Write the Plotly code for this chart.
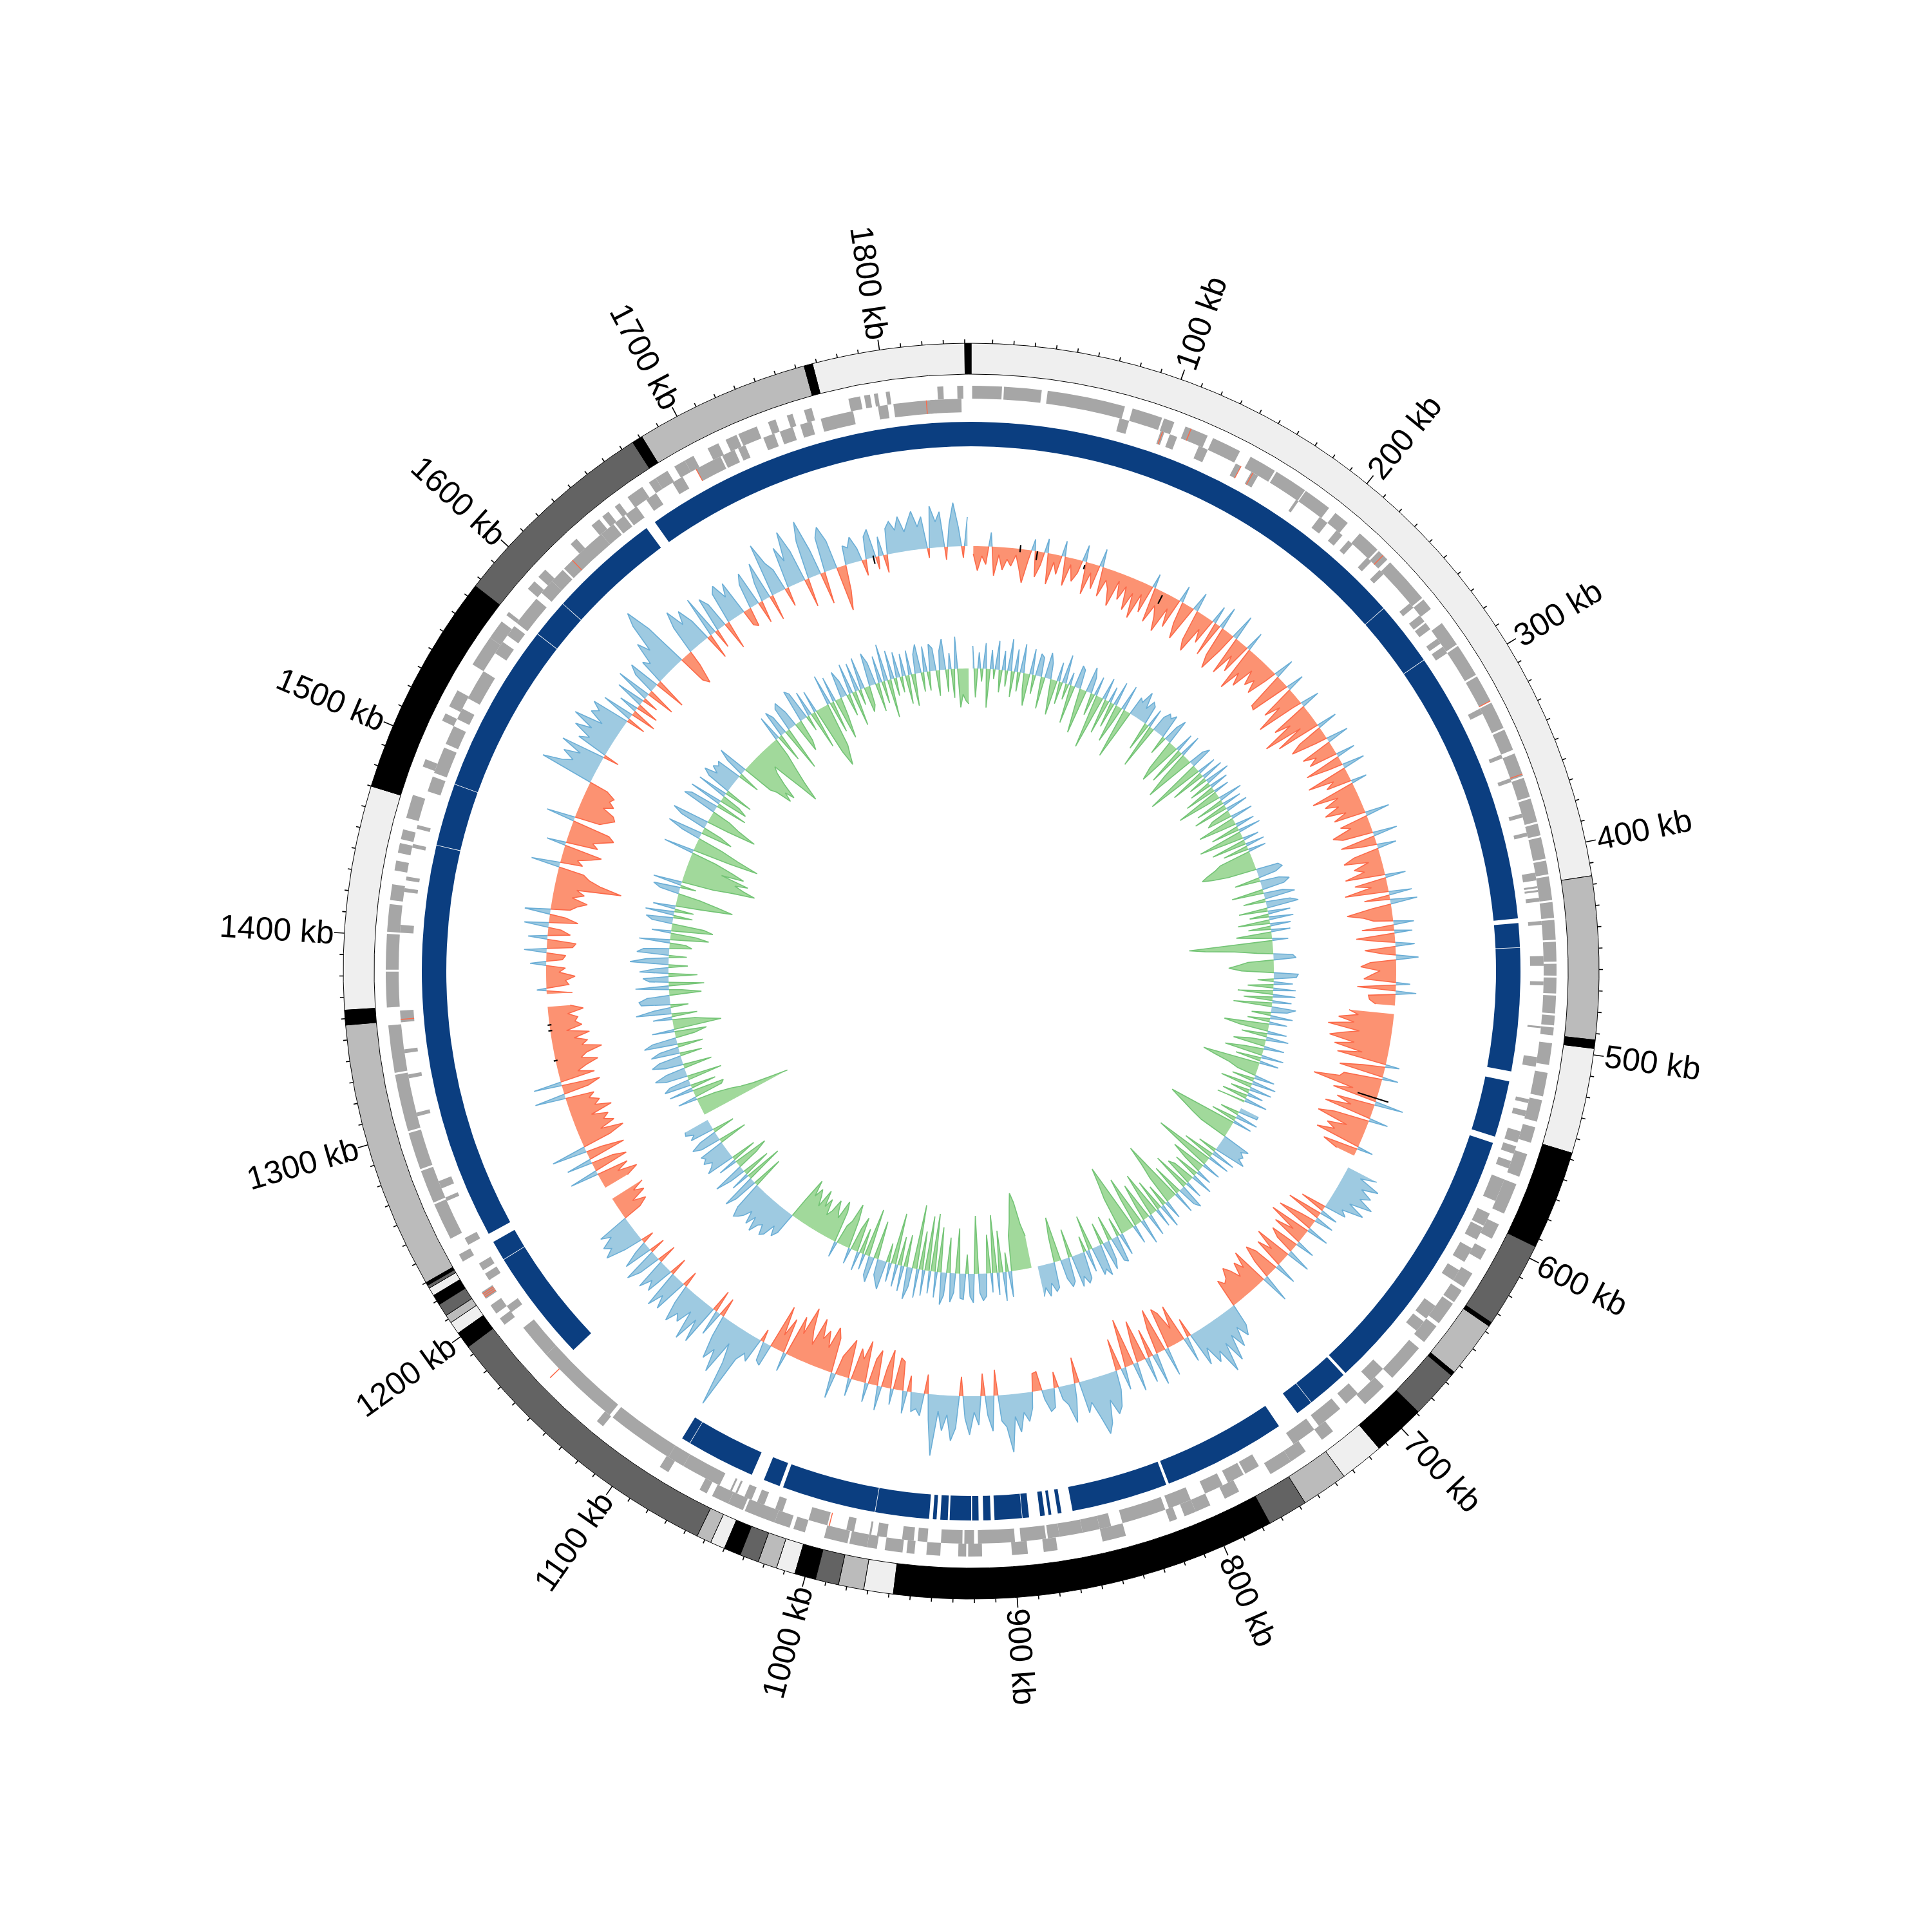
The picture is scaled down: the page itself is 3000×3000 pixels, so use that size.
import math
import plotly.graph_objects as go

GENOME_KB = 1843
RADIUS_PX = 1500

RING_EDGES = [0,416,493,497,547,594,635,637,664,666,689,714,735,757,776,958,972,984,995,1005,1014,1023,1032,1040,1047,1054,1194,1202,1208,1212,1218,1223,1227,1228.5,1230,1357,1364,1470,1576,1676,1681,1764,1768,1840,1843]
RING_SHADES = ["#efefef","#bbbbbb","#000000","#efefef","#000000","#636363","#000000","#bbbbbb","#000000","#636363","#000000","#efefef","#bbbbbb","#636363","#000000","#efefef","#bbbbbb","#636363","#000000","#efefef","#bbbbbb","#636363","#000000","#efefef","#bbbbbb","#636363","#000000","#efefef","#bbbbbb","#636363","#000000","#efefef","#636363","#000000","#bbbbbb","#000000","#efefef","#000000","#636363","#000000","#bbbbbb","#000000","#efefef","#000000"]

GENES_OUTER = [(0.5,15.5),(16.5,35.5),(38.5,78),(82,97.5),(98.5,104),(110,122),(125,140),(146,160),(161,178),(178.5,193),(197,205),(213,225),(226,232),(234,258),(259,265),(274,287),(288,305),(306,320),(321,335),(336,347),(349,361),(362,372),(373,385),(386,392),(393,404),(405,412),(413,425),(426,434),(435,445),(446,456),(457,463),(464,472),(473,482),(483,488),(489,493),(497,508),(512,524),(526,537),(540,548),(554,566),(570,586),(592,600),(606,612),(620,628),(630,637),(638,650),(652,662),(666,686),(692,705),(726,733),(743,752),(752,764),(782,790),(798,806),(806,812),(816,820),(843,855),(878,885),(893,901),(916,923),(924,928),(937,944),(950,954),(956,965),(969,974),(974,983),(984,996),(1006,1012),(1014,1022),(1022,1038),(1039,1047),(1047,1056),(1059,1063),(1081,1086),(1121,1125),(1192,1196),(1199,1204),(1208,1212),(1230,1234),(1243,1262),(1263,1280),(1281,1300),(1301,1330),(1331,1355),(1364,1382),(1383,1401),(1402,1416),(1418,1426),(1433,1438),(1442,1447),(1449,1454),(1460,1472),(1487,1491),(1512,1516),(1520,1529),(1544,1560),(1560,1570),(1574,1576),(1591,1596),(1599,1604),(1622,1626),(1636,1641),(1643,1647),(1651,1654),(1659,1668),(1672,1676),(1676,1683),(1687,1693),(1693,1698),(1706,1712),(1716,1722),(1723,1733),(1739,1743),(1749,1752),(1758,1762),(1781,1787),(1789,1792),(1794,1796),(1800,1802),(1826,1829),(1836,1839)]
GENES_INNER = [(77,82),(99,101),(104,108),(120,125),(141,144),(150,154),(177,178.5),(192,197),(203,207),(211,214),(224,227),(233,236),(256,259),(264,268),(269,273),(279,282),(284,288),(321,324),(347,349),(360,362),(379,381),(389,391),(410,414),(417,418),(419,420),(423,425),(435,437),(453,458),(466,468),(489,490),(505,510),(527,529),(533,536),(544,550),(552,556),(560,564),(570,582),(589,596),(597,604),(609,617),(622,628),(644,652),(654,660),(686,695),(704,712),(716,730),(733,746),(767,775),(776,785),(788,798),(806,818),(820,843),(849,855),(855,864),(864,876),(876,882),(883,896),(899,918),(920,925),(926,937),(944,949),(951,957),(965,970),(973,974),(982,986),(996,1006),(1020,1024),(1030,1034),(1037,1041),(1045,1046),(1048,1049),(1055,1076),(1076,1085),(1085,1120),(1122,1167),(1167,1185),(1195,1199),(1215,1219),(1221,1225),(1236,1240),(1261,1263),(1268,1272),(1307,1309),(1327,1329),(1340,1342),(1356,1362),(1402,1406),(1423,1425),(1429,1431),(1446,1448),(1456,1458),(1476,1484),(1486,1500),(1502,1512),(1516,1522),(1528,1544),(1555,1562),(1566,1572),(1574,1590),(1594,1602),(1602,1610),(1611,1637),(1637,1645),(1646,1652),(1653,1660),(1666,1672),(1682,1688),(1696,1710),(1711,1718),(1720,1724),(1734,1740),(1743,1750),(1754,1760),(1765,1782),(1795,1800),(1803,1825),(1822,1838)]
RED_OUTER_KB = [113,229,320,360,1157,1209,1210,1211]
RED_INNER_KB = [100,144,151,995,1357.5,1617,1696,1820]

CONTIGS = [(0,249),(249.3,284),(284.3,432.5),(435,448),(448.3,514.6),(520,550.5),(554,701.5),(703,725.5),(725.8,735),(747,813.5),(815,867),(873,875),(878.5,880),(882,884.5),(890.5,894),(894.3,909),(911,915),(917.5,921),(921.5,933),(934,938),(940,942),(944,973),(973.3,1024),(1026,1035),(1042,1079),(1079.3,1084),(1159,1220),(1220.3,1231),(1236,1450),(1450.3,1484),(1484.3,1576),(1576.3,1597),(1597.3,1657.5),(1663,1843)]

TICK_KB = list(range(10, 1841, 10))
LABEL_KB = list(range(100, 1801, 100))

SKEW_STEP_KB = 3
SKEW = [
-12,-38,-15,-28,22,-45,-12,-35,-18,-28,-10,-30,-52,-15,18,-40,-20,22,-48,-12,
-30,24,-45,-10,-35,-20,26,-50,-14,-38,28,-46,-18,-30,-55,-12,-40,-16,-52,-22,
-60,-18,-45,22,-55,-25,-40,-62,-20,-48,26,-35,-58,-15,30,-50,-65,-22,-42,28,
-55,35,-48,-68,-30,40,-62,-25,-50,30,-72,-38,-58,-22,-45,-30,-50,-18,32,-60,
-63,-20,28,-55,-30,-75,-15,30,-60,-35,-86,-25,-70,32,-40,-58,-20,35,-50,-30,
-45,30,-58,-22,35,-65,-25,-40,25,-70,-30,-55,-35,-60,-28,-50,38,-45,-30,-62,
-48,38,-55,-25,30,-40,-58,-20,-45,-30,-62,32,-50,-25,-68,36,-40,42,-30,-70,
-45,-30,32,-50,28,-60,-25,30,-48,-20,35,-40,-55,-25,-38,-50,22,-60,32,-42,
-40,-30,None,-70,-55,-85,-60,-100,-50,-75,-95,-55,-85,-40,-78,22,-35,-70,25,-60,
-65,-105,-40,-70,45,-60,-35,-75,30,-55,-80,-30,-60,-45,-72,25,-55,-30,None,None,
50,25,60,35,55,40,65,30,58,25,35,-40,28,-55,30,-25,-60,35,-65,-20,
-50,30,-45,-30,38,-58,-25,-48,35,-40,-55,-30,45,-60,-35,-50,-28,-45,-55,-40,
-35,-45,35,50,30,60,35,75,40,85,45,60,30,55,-30,40,-60,-25,-55,-65,
45,-70,-40,50,-45,40,-65,-30,45,-75,-20,35,-50,30,55,65,40,75,90,60,
35,50,-40,25,60,30,20,-25,30,35,15,-30,-28,25,45,30,60,35,90,50,
40,-40,55,30,-35,45,25,60,35,-30,50,70,30,55,25,95,40,-30,35,25,
30,-25,35,-45,-50,25,-60,-30,38,-55,-40,30,-65,-35,-50,28,-60,-45,-30,40,
-55,-70,-35,-60,-45,-75,-30,-50,-85,-40,-65,30,-55,-25,-70,35,30,-20,40,30,
45,130,60,30,85,50,70,35,-30,40,-35,65,30,70,25,50,40,60,30,-25,
55,35,60,-28,45,30,50,-30,35,55,-25,45,20,-20,30,60,45,55,35,50,
-30,-45,-25,-50,-35,-55,None,None,-40,-60,-30,-50,45,-55,-35,40,-60,-25,55,-45,
-70,-35,-60,-45,-55,-30,-65,-40,-50,-35,-45,48,-40,-60,44,-55,-30,-45,-65,-40,
-50,-75,-45,-55,-35,-60,-25,-50,-40,-45,-30,-55,-35,None,None,-40,15,-35,-30,-45,
-20,-30,25,-25,-30,35,-40,-45,30,-35,-20,38,-45,-25,40,-30,-40,-55,-30,-48,
-35,-104,-70,-50,-40,45,-35,-25,-45,-60,30,-50,-40,-55,-70,-60,45,-40,-50,-60,
-55,-35,-50,-40,-45,-30,85,55,40,60,35,70,-25,50,35,65,40,75,30,55,
45,60,-30,50,-40,30,-35,45,-25,55,-45,35,50,-50,40,30,65,45,90,110,
70,-45,-55,-25,45,70,40,60,35,-40,65,-30,55,40,-45,50,60,35,55,-25,
-30,40,55,-35,30,60,-40,84,50,35,-30,65,40,85,50,-45,60,90,40,-50,
55,70,45,-70,-40,30,25,40,20,-25,35,45,-20,30,-28,40,50,35,55,30,
45,60,35,50,-15,65,40,55,-20,35,68,30,-18,45,
]

GC_STEP_KB = 3
GC = [
35,-45,25,-20,40,-60,30,-15,45,-35,30,-25,50,-40,35,-30,45,-25,-50,40,
-30,35,30,-50,40,25,-20,-55,30,-35,45,-25,20,-60,35,30,-30,-70,40,25,
-35,30,-85,-30,35,-55,25,-40,38,-60,-25,40,-80,-35,30,25,45,20,35,30,
-45,30,-70,25,35,30,38,-30,25,40,-50,-70,-25,30,-60,35,-45,-80,-30,25,
35,-90,-40,30,-55,35,-30,40,-35,30,-50,25,-70,-25,38,-45,30,-55,35,-30,
-40,35,-60,-25,30,-45,35,-70,-30,25,-55,30,-40,28,-50,-60,-75,-85,-70,-45,
35,40,28,-40,30,45,35,-50,30,48,-35,38,50,-45,35,-30,38,-50,32,-35,
30,-55,-20,25,-130,-105,-60,-25,30,35,-40,-55,-70,-50,38,35,-25,30,-40,35,
-55,35,-45,30,-60,38,25,-30,35,-35,28,-70,-45,30,-40,35,-25,-50,32,-30,
-60,35,-40,30,-90,-70,-45,-30,32,-35,38,-50,35,-30,25,-40,36,-45,None,30,
30,-30,35,-40,30,-108,-95,-80,-65,-45,45,35,42,38,50,-30,38,-50,35,-93,
-45,30,-55,-30,25,-40,35,-35,-45,28,-60,40,30,-50,35,-100,-70,-45,30,-35,
38,-50,30,-70,-30,35,-60,-25,40,-80,-45,30,-50,-110,-85,-60,35,-30,42,38,
-40,30,45,-35,50,38,45,-55,35,-25,42,48,35,50,-45,38,45,30,-70,-40,
40,45,30,50,35,48,None,-50,-70,-105,-120,-100,-75,-55,40,-30,45,-65,35,-90,
30,-60,35,42,30,-90,45,35,-30,40,38,-70,30,45,-55,35,50,-70,40,-90,
35,-85,40,-60,45,-100,30,50,-50,40,-45,35,-80,30,-30,45,35,25,-60,40,
30,-75,25,-40,30,-55,-35,25,-45,-70,-40,-30,25,-50,-65,-35,-45,-60,-40,-30,
-55,-40,-65,-35,-50,-60,-45,-70,-30,35,45,30,50,55,40,45,60,38,55,35,
48,55,60,45,-50,38,55,-60,30,-45,25,50,-35,-55,30,-40,45,35,30,42,
35,40,-45,32,45,28,-35,38,30,42,40,None,-146,-120,-90,-70,-55,-30,30,-45,
-50,38,-40,42,32,-55,35,50,30,-45,28,48,35,-35,45,30,-40,52,38,-30,
-50,35,-75,-55,-35,30,-40,55,25,-28,45,48,35,-50,-20,52,-55,30,40,-45,
45,20,-30,60,35,-28,50,40,-35,-25,48,-60,-40,30,-65,-50,32,42,-30,45,
-30,35,-40,-89,-65,-35,30,42,-25,45,-50,-80,-115,-95,-80,-100,-55,-90,-70,-40,
48,-60,-105,-70,-40,30,55,-50,-30,42,58,-35,-80,-50,-30,55,45,-50,52,-45,
-30,48,-45,38,50,30,42,35,40,-35,30,48,-50,-60,-85,-70,-85,-60,-40,-30,
-60,-85,-110,-80,-55,-30,40,-45,42,30,-70,38,45,25,-50,-35,52,45,-25,40,
-60,35,-75,-100,-85,-70,48,-50,40,-65,-30,42,25,-35,48,-55,45,-25,50,-40,
-30,52,35,-45,42,-35,58,-60,45,-28,40,-25,35,-45,38,-50,30,45,-30,40,
-30,42,35,-40,30,48,-35,25,-45,50,-60,-40,-50,-55,
]

SKEW_MARK_KB = [34,46,80,138,550,1320,1341,1345,1775]
SKEW_MARK_LOW = [-5,-14,-12,-20,-31,-3,-3,-3,-10]
SKEW_MARK_HIGH = [6,0,-5,-5,19,3,3,3,3]

R_RING_OUT, R_RING_IN = 975, 927
R_GENE_TOP, R_GENE_MID, R_GENE_BOT = 909, 889, 868
R_CONTIG_OUT, R_CONTIG_IN = 853, 815
R_SKEW, R_GC = 660, 470


def deg(kb):
    return kb / GENOME_KB * 360.0


def bars(spans, base, top, color, line=None):
    return go.Barpolar(
        theta=[deg((a + b) / 2) for a, b in spans],
        width=[deg(b - a) for a, b in spans],
        base=[base] * len(spans),
        r=[top - base] * len(spans),
        marker=dict(color=color, line=dict(color=line or color, width=1 if line else 0)),
        hoverinfo="skip",
        showlegend=False,
    )


def split_by_sign(values, step):
    pos, neg = [], []
    run = []
    runs = []
    for i, v in enumerate(values):
        if v is None:
            if run:
                runs.append(run)
            run = []
        else:
            run.append((step * i + step / 2, v))
    if run:
        runs.append(run)
    for run in runs:
        cur = [run[0]]
        for (x0, v0), (x1, v1) in zip(run, run[1:]):
            if (v0 >= 0) != (v1 >= 0):
                xc = x0 + (x1 - x0) * v0 / (v0 - v1)
                cur.append((xc, 0))
                (pos if v0 >= 0 else neg).append(cur)
                cur = [(xc, 0)]
            cur.append((x1, v1))
        (pos if cur[-1][1] >= 0 else neg).append(cur)
    return pos, neg


def area_traces(segments, base, fill, stroke):
    ft, fr, lt, lr = [], [], [], []
    for seg in segments:
        th = [deg(x) for x, _ in seg]
        rr = [base + v for _, v in seg]
        ft += th + th[::-1] + [None]
        fr += rr + [base] * len(th) + [None]
        lt += th + [None]
        lr += rr + [None]
    return [
        go.Scatterpolar(theta=ft, r=fr, mode="lines", fill="toself", fillcolor=fill,
                        line=dict(width=0, color=fill), hoverinfo="skip", showlegend=False),
        go.Scatterpolar(theta=lt, r=lr, mode="lines", line=dict(width=1.6, color=stroke),
                        hoverinfo="skip", showlegend=False),
    ]


fig = go.Figure()

# outer contig ring
for shade in dict.fromkeys(RING_SHADES):
    spans = [(RING_EDGES[i], RING_EDGES[i + 1]) for i, c in enumerate(RING_SHADES) if c == shade]
    fig.add_trace(bars(spans, R_RING_IN, R_RING_OUT, shade, line="#000000"))

# ticks
tick_t, tick_r = [], []
for kb in TICK_KB:
    tick_t += [deg(kb), deg(kb), None]
    tick_r += [R_RING_OUT, R_RING_OUT + (16 if kb % 100 == 0 else 6), None]
fig.add_trace(go.Scatterpolar(theta=tick_t, r=tick_r, mode="lines",
                              line=dict(color="#000000", width=1.6), hoverinfo="skip", showlegend=False))

# gene strands
fig.add_trace(bars(GENES_OUTER, R_GENE_MID, R_GENE_TOP, "#a6a6a6"))
fig.add_trace(bars(GENES_INNER, R_GENE_BOT, R_GENE_MID, "#a6a6a6"))
fig.add_trace(bars([(k - 0.25, k + 0.25) for k in RED_OUTER_KB], R_GENE_MID, R_GENE_TOP, "#fb6a4a"))
fig.add_trace(bars([(k - 0.25, k + 0.25) for k in RED_INNER_KB], R_GENE_BOT, R_GENE_MID, "#fb6a4a"))

# contigs
fig.add_trace(bars(CONTIGS, R_CONTIG_IN, R_CONTIG_OUT, "#0b3e80"))

# GC skew
pos, neg = split_by_sign(SKEW, SKEW_STEP_KB)
for t in area_traces(pos, R_SKEW, "#9ecae1", "#6baed6") + area_traces(neg, R_SKEW, "#fc9272", "#fb6a4a"):
    fig.add_trace(t)

mark_t, mark_r = [], []
for kb, lo, hi in zip(SKEW_MARK_KB, SKEW_MARK_LOW, SKEW_MARK_HIGH):
    mark_t += [deg(kb), deg(kb), None]
    mark_r += [R_SKEW + lo, R_SKEW + hi, None]
fig.add_trace(go.Scatterpolar(theta=mark_t, r=mark_r, mode="lines",
                              line=dict(color="#000000", width=2.2), hoverinfo="skip", showlegend=False))

# GC content
pos, neg = split_by_sign(GC, GC_STEP_KB)
for t in area_traces(pos, R_GC, "#9ecae1", "#6baed6") + area_traces(neg, R_GC, "#a1d99b", "#74c476"):
    fig.add_trace(t)

# radial labels
annotations = []
for kb in LABEL_KB:
    text = f"{kb} kb"
    th = deg(kb)
    length = 129 if kb < 1000 else 154
    rc = R_RING_OUT + 28 + length / 2
    x = (RADIUS_PX + rc * math.sin(math.radians(th))) / (2 * RADIUS_PX)
    y = 1 - (RADIUS_PX - rc * math.cos(math.radians(th))) / (2 * RADIUS_PX)
    angle = th - 90 if th < 180 else th - 270
    annotations.append(dict(text=text, x=x, y=y, xref="paper", yref="paper", xanchor="center",
                            yanchor="middle", showarrow=False, textangle=angle,
                            font=dict(family="Liberation Sans Narrow, Liberation Sans, sans-serif", size=50, color="#000000")))

fig.update_layout(
    width=3000, height=3000, margin=dict(l=0, r=0, t=0, b=0),
    paper_bgcolor="white", showlegend=False, annotations=annotations,
    polar=dict(
        domain=dict(x=[0, 1], y=[0, 1]), bgcolor="white", barmode="overlay", bargap=0,
        radialaxis=dict(visible=False, range=[0, RADIUS_PX]),
        angularaxis=dict(visible=False, rotation=90, direction="clockwise", thetaunit="degrees"),
    ),
)
fig.write_html("out.html")
